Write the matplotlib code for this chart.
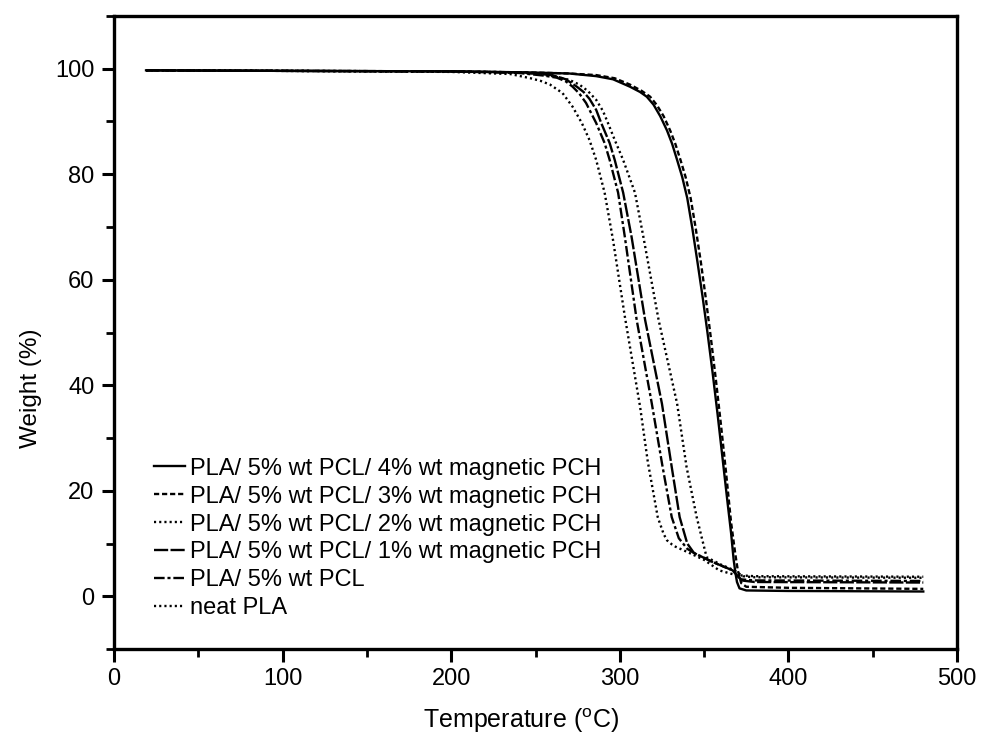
import matplotlib
matplotlib.use("Agg")
import matplotlib.pyplot as plt
from matplotlib.ticker import MultipleLocator

plt.rcParams['font.family'] = ['Liberation Sans', 'DejaVu Sans']
plt.rcParams['mathtext.fontset'] = 'custom'
plt.rcParams['mathtext.rm'] = 'Liberation Sans'

labels = [
    "PLA/ 5% wt PCL/ 4% wt magnetic PCH",
    "PLA/ 5% wt PCL/ 3% wt magnetic PCH",
    "PLA/ 5% wt PCL/ 2% wt magnetic PCH",
    "PLA/ 5% wt PCL/ 1% wt magnetic PCH",
    "PLA/ 5% wt PCL",
    "neat PLA",
]

t_pch4 = [19, 100, 200, 247, 270, 286, 296, 306, 312, 316, 320, 324, 328, 331, 334, 337, 340, 343, 346, 349, 352, 355, 358, 361, 364, 366, 367.5, 368.5, 369.5, 371, 375, 400, 480]
w_pch4 = [99.7, 99.6, 99.5, 99.3, 99.1, 98.6, 98.0, 96.6, 95.6, 94.7, 93.2, 91.0, 88.3, 85.8, 82.7, 79.5, 75.5, 69.8, 63.5, 57.0, 50.0, 42.5, 34.5, 26.0, 17.5, 12.0, 7.0, 4.6, 2.7, 1.5, 1.1, 1.0, 0.9]

t_pch3 = [19, 100, 200, 247, 270, 286, 297, 306, 313, 318, 322, 326, 330, 333, 336, 339, 342, 345, 348, 351, 354, 357, 360, 363, 366, 368.5, 370, 372, 375, 400, 480]
w_pch3 = [99.7, 99.6, 99.5, 99.3, 99.1, 98.8, 98.2, 97.0, 95.8, 94.7, 93.1, 91.0, 88.2, 85.7, 82.7, 79.5, 75.5, 69.8, 63.5, 56.5, 49.0, 41.0, 32.5, 23.5, 14.0, 8.0, 4.9, 2.5, 1.8, 1.6, 1.4]

t_pch2 = [19, 100, 200, 245, 262, 270, 276, 281, 286, 290, 293, 297, 302, 309, 314, 323, 334, 339.6, 345.6, 349, 351.5, 360, 368, 373, 380, 480]
w_pch2 = [99.7, 99.6, 99.5, 99.3, 98.5, 97.9, 97.0, 95.8, 94.1, 92.0, 89.7, 86.5, 82.7, 76.5, 68.1, 52.4, 36.5, 24.5, 15.0, 10.6, 7.4, 6.0, 4.9, 3.8, 3.6, 3.5]

t_pch1 = [19, 100, 200, 240, 260, 268, 274.5, 278.5, 282, 286, 289, 294, 297, 302, 307, 315, 325, 330.8, 335.5, 340, 344, 355, 367, 372, 380, 480]
w_pch1 = [99.7, 99.6, 99.5, 99.3, 98.8, 98.0, 96.6, 95.6, 94.3, 92.2, 89.7, 85.9, 82.7, 76.5, 68.1, 52.4, 36.5, 24.5, 15.0, 10.0, 8.2, 6.5, 4.9, 3.0, 2.7, 2.6]

t_pcl = [19, 100, 200, 240, 255, 262.7, 268, 272, 276, 280, 286, 291, 294, 299, 303, 310, 319, 325.4, 330.8, 335, 340, 344, 355, 367, 372, 380, 480]
w_pcl = [99.7, 99.6, 99.5, 99.2, 98.7, 98.3, 97.6, 96.6, 95.3, 93.5, 89.7, 85.9, 82.7, 76.5, 68.1, 52.4, 36.5, 24.5, 15.0, 11.0, 9.0, 8.2, 6.5, 4.9, 3.2, 3.0, 2.9]

t_neat = [19, 100, 200, 235, 247, 253, 258.6, 266, 272, 277.5, 282, 286, 291, 296, 303, 312, 316.6, 322.5, 326, 328, 331, 333, 340, 350, 359, 369, 380, 480]
w_neat = [99.7, 99.6, 99.4, 99.0, 98.2, 97.7, 97.0, 95.4, 92.8, 89.7, 86.5, 82.7, 76.5, 67.5, 53.0, 36.0, 25.5, 15.0, 11.8, 10.6, 9.8, 9.4, 8.4, 6.9, 4.9, 4.0, 3.8, 3.7]

temps = [t_pch4, t_pch3, t_pch2, t_pch1, t_pcl, t_neat]
weights = [w_pch4, w_pch3, w_pch2, w_pch1, w_pcl, w_neat]

styles = [
    dict(linestyle='-'),
    dict(dashes=(2.2, 1.2)),
    dict(dashes=(0.9, 1.3)),
    dict(dashes=(6, 1.0)),
    dict(dashes=(4.5, 1.2, 1.3, 1.2)),
    dict(dashes=(0.9, 1.3)),
]

fig = plt.figure(figsize=(9.81, 7.39), dpi=100)
ax = fig.add_axes([114/981, 1 - 649/739, 843/981, 633/739])

for t, w, lab, st in zip(temps, weights, labels, styles):
    ax.plot(t, w, color='black', lw=1.7, label=lab, **st)

ax.set_xlim(0, 500)
ax.set_ylim(-10, 110)
ax.xaxis.set_major_locator(MultipleLocator(100))
ax.xaxis.set_minor_locator(MultipleLocator(50))
ax.yaxis.set_minor_locator(MultipleLocator(10))
ax.set_yticks([0, 20, 40, 60, 80, 100])

for s in ax.spines.values():
    s.set_linewidth(2.4)
ax.tick_params(which='major', direction='out', length=9, width=2.2, labelsize=17, pad=5)
ax.tick_params(which='minor', direction='out', length=6, width=2.0)
ax.tick_params(top=False, right=False)

ax.set_xlabel(r"Temperature ($\mathregular{^{o}}$C)", fontsize=18)
ax.set_ylabel("Weight (%)", fontsize=17.5)
ax.xaxis.set_label_coords(0.483, -0.09)
ax.yaxis.set_label_coords(-0.085, 0.412)

leg = ax.legend(loc='lower left', bbox_to_anchor=(0.048, 0.047), frameon=False,
                fontsize=17, handlelength=1.3, handletextpad=0.2,
                labelspacing=0.25, borderpad=0, borderaxespad=0)

fig.savefig("out.png", dpi=100)
